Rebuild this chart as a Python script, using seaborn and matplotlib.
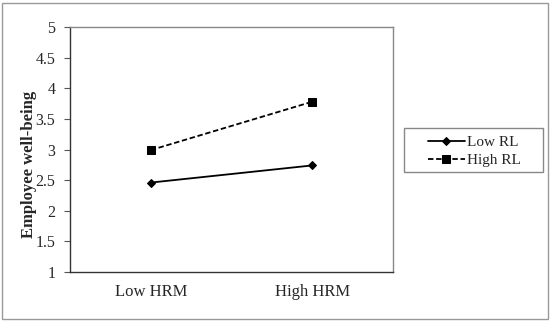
import matplotlib
matplotlib.use("Agg")
import matplotlib.pyplot as plt
from matplotlib.patches import Rectangle
import seaborn as sns
import pandas as pd

# values
hrm_levels = ["Low HRM", "High HRM"]
low_rl = [2.46, 2.74]
high_rl = [2.99, 3.78]
groups = ["Low RL", "High RL"]
y_ticks = [1, 1.5, 2, 2.5, 3, 3.5, 4, 4.5, 5]
y_tick_labels = ["1", "1.5", "2", "2.5", "3", "3.5", "4", "4.5", "5"]

df = pd.DataFrame({
    "HRM": hrm_levels * 2,
    "wellbeing": low_rl + high_rl,
    "group": [groups[0]] * 2 + [groups[1]] * 2,
})

sns.set_style("white")
plt.rcParams["font.family"] = ["Liberation Serif", "DejaVu Serif"]

fig = plt.figure(figsize=(5.5, 3.22), dpi=100)
ax = fig.add_axes([70 / 550, 50 / 322, 323 / 550, 245 / 322])

sns.lineplot(data=df, x="HRM", y="wellbeing", style="group",
             markers={"Low RL": "D", "High RL": "s"},
             dashes={"Low RL": "", "High RL": (3, 1.5)},
             color="black", markersize=5, linewidth=1.3,
             markeredgecolor="black", ax=ax, legend=False)
for line, ms in zip(ax.get_lines(), [4.5, 6]):
    line.set_markersize(ms)

ax.set_xlim(-0.5, 1.5)
ax.set_ylim(1, 5)
ax.set_yticks(y_ticks)
ax.set_yticklabels(y_tick_labels, fontsize=11.5)
ax.set_xticks([0, 1])
ax.set_xticklabels(hrm_levels, fontsize=12)
ax.set_xticks([0.5], minor=True)
ax.tick_params(axis="x", which="major", length=0, pad=9)
ax.tick_params(axis="x", which="minor", length=4, direction="out", color="#555555")
ax.tick_params(axis="y", length=4.5, direction="out", color="#555555", pad=6, left=True)
ax.set_xlabel("")
ax.set_ylabel("Employee well-being", fontsize=12, fontweight="bold")
ax.yaxis.set_label_coords(-0.102, 0.44)

for side in ["left", "bottom"]:
    ax.spines[side].set_color("#333333")
    ax.spines[side].set_linewidth(1.0)
for side in ["top", "right"]:
    ax.spines[side].set_color("#888888")
    ax.spines[side].set_linewidth(1.0)

handles = ax.get_lines()[:2]
leg = fig.legend(handles, groups, loc="center left",
                 bbox_to_anchor=(428 / 550, 1 - 151.5 / 322),
                 frameon=False, fontsize=11,
                 handlelength=2.4, handletextpad=0.15, borderpad=0,
                 labelspacing=0.3, borderaxespad=0)

# legend box and outer border
fig.patches.append(Rectangle((404 / 550, 1 - 172 / 322), 139 / 550, 44 / 322,
                             transform=fig.transFigure, fill=False,
                             edgecolor="#888888", linewidth=1.0))
fig.patches.append(Rectangle((2 / 550, 3 / 322), 546 / 550, 316 / 322,
                             transform=fig.transFigure, fill=False,
                             edgecolor="#999999", linewidth=1.0))

fig.savefig("out.png", dpi=100)
